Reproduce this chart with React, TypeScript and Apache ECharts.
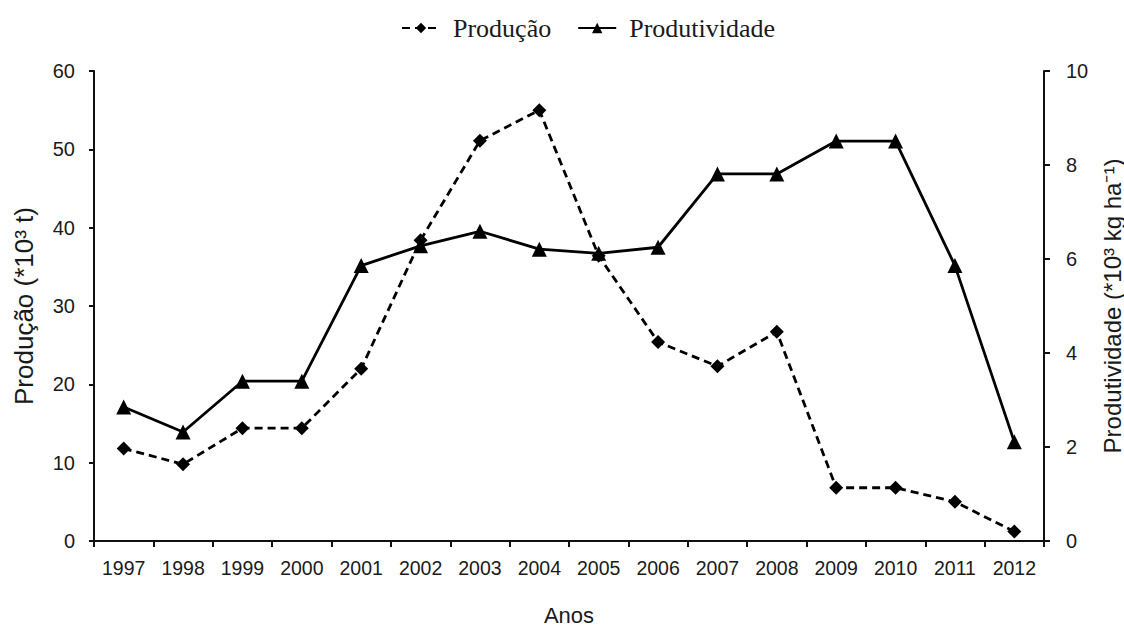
import React, { useEffect, useRef } from "react";
import * as echarts from "echarts";

const anos = ["1997","1998","1999","2000","2001","2002","2003","2004","2005","2006","2007","2008","2009","2010","2011","2012"];
const producao = [11.8, 9.8, 14.4, 14.4, 22.0, 38.4, 51.1, 55.0, 36.4, 25.4, 22.3, 26.7, 6.8, 6.8, 5.0, 1.2];
const produtividade = [2.85, 2.32, 3.40, 3.40, 5.86, 6.28, 6.59, 6.21, 6.12, 6.25, 7.81, 7.81, 8.51, 8.51, 5.86, 2.11];

export default function App() {
  const ref = useRef<HTMLDivElement>(null);
  useEffect(() => {
    if (!ref.current) return;
    const chart = echarts.init(ref.current, null, { renderer: "svg" });
    const sans = "Liberation Sans, Arial, sans-serif";
    const axisFont = { fontFamily: sans, fontSize: 20, color: "#1a1a1a" };
    const nameFont = { fontFamily: sans, fontSize: 26, color: "#1a1a1a" };
    chart.setOption({
      animation: false,
      backgroundColor: "#fff",
      legend: {
        top: 10,
        left: 396,
        itemWidth: 38,
        itemHeight: 13,
        itemGap: 26,
        textStyle: {
          fontFamily: "Liberation Serif, Times New Roman, serif",
          fontSize: 26,
          color: "#1a1a1a",
          padding: [0, 0, 0, 8],
        },
        data: ["Produção", "Produtividade"],
      },
      grid: { left: 94, right: 80, top: 71, bottom: 89, containLabel: false, outerBoundsMode: "none" },
      xAxis: {
        type: "category",
        data: anos,
        boundaryGap: true,
        name: "Anos",
        nameLocation: "middle",
        nameGap: 63,
        nameTextStyle: { ...nameFont, fontSize: 22 },
        axisLine: { lineStyle: { color: "#111", width: 2 } },
        axisTick: { show: true, length: 6, lineStyle: { color: "#111", width: 2 } },
        axisLabel: { ...axisFont, fontSize: 19.5, margin: 17 },
      },
      yAxis: [
        {
          type: "value",
          min: 0,
          max: 60,
          interval: 10,
          name: "Produção (*10³ t)",
          nameLocation: "middle",
          nameGap: 57,
          nameRotate: 90,
          nameTextStyle: nameFont,
          axisLine: { show: true, lineStyle: { color: "#111", width: 2 } },
          axisTick: { show: true, length: 5, lineStyle: { color: "#111", width: 2 } },
          axisLabel: { ...axisFont, margin: 19 },
          splitLine: { show: false },
        },
        {
          type: "value",
          min: 0,
          max: 10,
          interval: 2,
          name: "Produtividade (*10³ kg ha⁻¹)",
          nameLocation: "middle",
          nameGap: 48,
          nameRotate: 90,
          nameTextStyle: { ...nameFont, fontSize: 24, lineHeight: 26 },
          position: "right",
          axisLine: { show: true, lineStyle: { color: "#111", width: 2 } },
          axisTick: { show: true, length: 6, lineStyle: { color: "#111", width: 2 } },
          axisLabel: { ...axisFont, margin: 22 },
          splitLine: { show: false },
        },
      ],
      series: [
        {
          name: "Produção",
          type: "line",
          yAxisIndex: 0,
          data: producao,
          symbol: "diamond",
          symbolSize: 14,
          itemStyle: { color: "#000" },
          lineStyle: { color: "#000", width: 2.8, type: [8, 5] },
        },
        {
          name: "Produtividade",
          type: "line",
          yAxisIndex: 1,
          data: produtividade,
          symbol: "triangle",
          symbolSize: 15,
          itemStyle: { color: "#000" },
          lineStyle: { color: "#000", width: 2.8, type: "solid" },
        },
      ],
    });
    return () => chart.dispose();
  }, []);
  return <div ref={ref} style={{ width: 1124, height: 630, position: "absolute", left: 0, top: 0 }} />;
}
